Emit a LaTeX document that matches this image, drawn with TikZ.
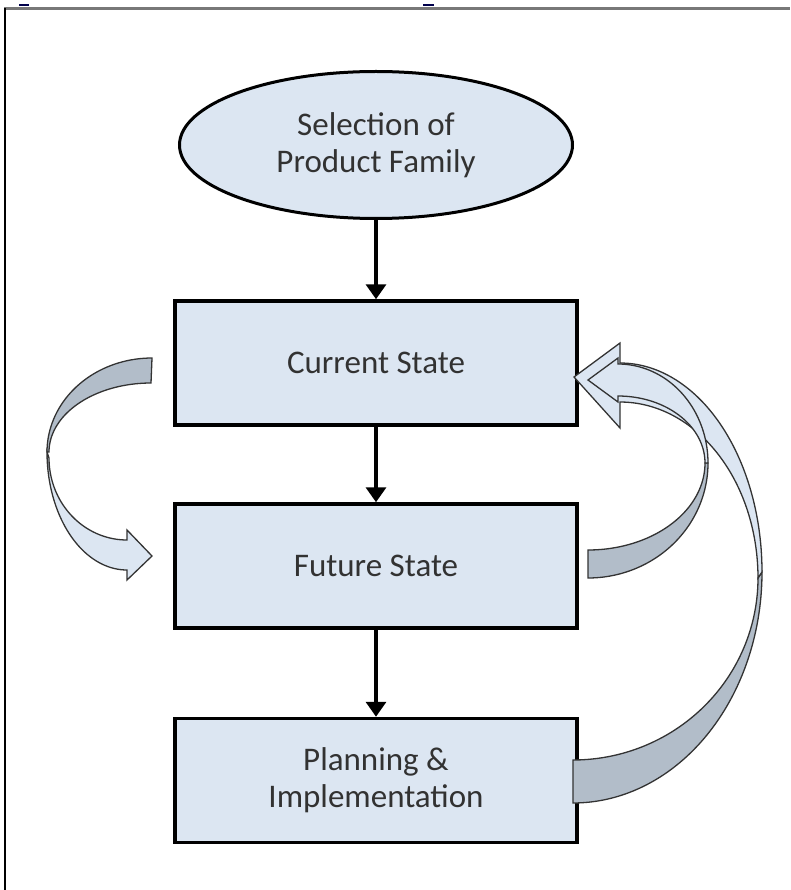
\documentclass[tikz,border=0pt]{standalone}
\usepackage{fontspec}
\setmainfont{Carlito}
\usetikzlibrary{arrows.meta,shapes.geometric}
\definecolor{boxfill}{RGB}{220,230,242}
\definecolor{darkfill}{RGB}{178,189,201}
\definecolor{txt}{RGB}{50,50,50}
\definecolor{framegray}{RGB}{120,120,120}
\begin{document}
\begin{tikzpicture}[x=1pt,y=-1pt,
  stepbox/.style={draw=black,line width=3.5pt,fill=boxfill,rectangle,minimum width=402pt,minimum height=124pt,inner sep=0pt,text=txt,align=center,font=\fontsize{33}{37}\selectfont},
  startell/.style={draw=black,line width=3pt,fill=boxfill,ellipse,minimum width=393pt,minimum height=147pt,inner sep=0pt,text=txt,align=center,font=\fontsize{33}{37}\selectfont},
  flow/.style={draw=black,line width=3.5pt,-{Triangle[width=20pt,length=15pt]}},
  lightarr/.style={fill=boxfill,draw=black!80,line width=1.3pt,line join=miter},
  darkarr/.style={fill=darkfill,draw=black!80,line width=1.3pt},
  pl/.style={smooth,samples=40,variable=\t}]
\useasboundingbox (0,0) rectangle (790,890);
% frame
\draw[framegray,line width=3pt] (4,9) -- (790,9);
\draw[black,line width=2.8pt] (5,8) -- (5,890);
\draw[black!70!blue,line width=1.5pt] (19,5) -- (29,5);
\draw[black!70!blue,line width=1.5pt] (423,5) -- (434,5);
% nodes
\node[startell] (sel) at (376,145) {Selection of\\Product Family};
\node[stepbox] (cur) at (376,363) {Current State};
\node[stepbox] (fut) at (376,566) {Future State};
\node[stepbox] (plan) at (376,780.5) {Planning \&\\Implementation};
% straight connectors
\draw[flow] (sel.south) -- (cur.north);
\draw[flow] (cur.south) -- (fut.north);
\draw[flow] (fut.south) -- (plan.north);
% left curved arrow (Current -> Future)
\filldraw[darkarr] plot[pl,domain=270:180] ({152+105*cos(\t)},{452+94*sin(\t)})
  -- plot[pl,domain=180:270] ({151+102*cos(\t)},{452+69*sin(\t)}) -- cycle;
\filldraw[lightarr] plot[pl,domain=180:90] ({127+80*cos(\t)},{452+118*sin(\t)})
  -- (127,580) -- (152,556) -- (127,530) -- (127,540)
  -- plot[pl,domain=90:180] ({127+78*cos(\t)},{458+82*sin(\t)}) -- cycle;
% outer right curved arrow (Planning -> Current)
\filldraw[darkarr] plot[pl,domain=90:0] ({573+189*cos(\t)},{572+231*sin(\t)})
  -- plot[pl,domain=0:90] ({573+185*cos(\t)},{578+182*sin(\t)}) -- cycle;
\filldraw[lightarr] plot[pl,domain=0:-90] ({620+138*cos(\t)},{578+176*sin(\t)})
  -- (620,428) -- (574,377) -- (620,343) -- (620,363)
  -- plot[pl,domain=-90:0] ({620+142*cos(\t)},{572+209*sin(\t)}) -- cycle;
% inner right curved arrow (Future -> Current)
\filldraw[darkarr] plot[pl,domain=90:0] ({588+120*cos(\t)},{463+115*sin(\t)})
  -- plot[pl,domain=0:90] ({588+117*cos(\t)},{463+87*sin(\t)}) -- cycle;
\filldraw[lightarr] plot[pl,domain=0:-90] ({618+87*cos(\t)},{463+67*sin(\t)})
  -- (618,402) -- (588,380) -- (618,358) -- (618,364)
  -- plot[pl,domain=-90:0] ({618+90*cos(\t)},{463+99*sin(\t)}) -- cycle;
\end{tikzpicture}
\end{document}
